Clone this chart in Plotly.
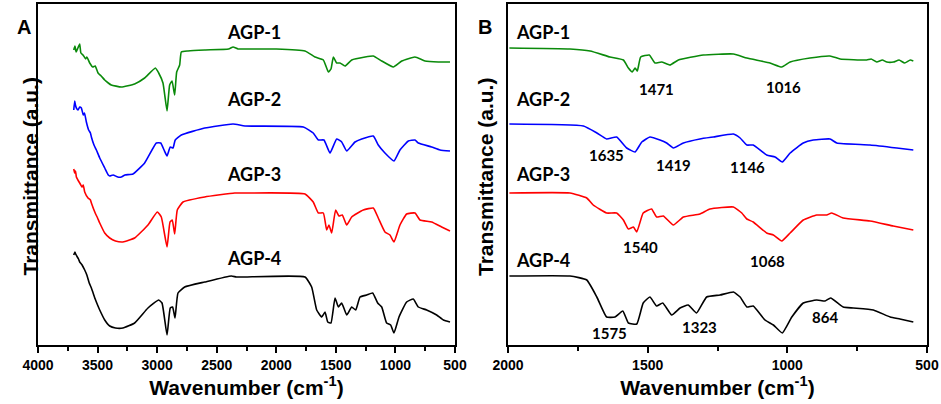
import plotly.graph_objects as go

## Datos (número de onda en cm-1, transmitancia en u.a. desplazada)

# Panel A : 4000 - 500 cm-1
wn_a1 = [3700, 3690, 3680, 3665, 3650, 3640, 3622, 3600, 3590, 3566, 3540, 3520, 3496, 3470, 3440, 3410,
         3385, 3301, 3189, 3105, 3015, 2987, 2951, 2917, 2895, 2875, 2853, 2836, 2811, 2797, 2741, 2600,
         2400, 2363, 2321, 2263, 2000, 1759, 1675, 1605, 1563, 1541, 1521, 1493, 1465, 1423, 1367, 1255,
         1186, 1115, 1018, 947, 836, 752, 640, 542]
t_a1 = [295, 299, 293, 297, 301, 292, 290, 286, 288, 282, 278, 279, 272, 269, 265, 262,
        260, 258, 261, 267, 277, 272, 262, 234, 260, 264, 250, 273, 280, 293, 294, 295,
        296, 298, 296, 296, 296, 294, 288, 285, 273, 276, 288, 282, 282, 279, 285, 288,
        289, 284, 278, 284, 288, 284, 283, 283]

wn_a2 = [3700, 3692, 3686, 3678, 3664, 3650, 3636, 3620, 3610, 3594, 3575, 3560, 3552, 3530, 3510, 3482,
         3440, 3410, 3398, 3370, 3330, 3301, 3270, 3203, 3105, 3007, 2970, 2942, 2917, 2890, 2867, 2848,
         2797, 2601, 2363, 2263, 1773, 1690, 1647, 1600, 1549, 1493, 1451, 1409, 1339, 1283, 1186, 1144,
         1088, 1012, 962, 892, 836, 808, 696, 626, 542]
t_a2 = [235, 244, 240, 237, 235, 238, 237, 230, 232, 223, 215, 212, 208, 200, 195, 187,
        177, 170, 169, 170, 168, 168, 170, 171, 182, 202, 202, 195, 189, 198, 197, 205,
        210, 217, 221, 219, 218, 212, 205, 205, 192, 206, 203, 194, 203, 206, 209, 200,
        192, 184, 195, 204, 205, 202, 198, 195, 194]

wn_a3 = [3700, 3692, 3685, 3678, 3665, 3650, 3630, 3620, 3608, 3580, 3560, 3552, 3520, 3500, 3482, 3440,
         3398, 3350, 3287, 3189, 3077, 2999, 2965, 2917, 2892, 2873, 2853, 2831, 2783, 2601, 2349, 2263,
         1759, 1690, 1647, 1605, 1577, 1558, 1535, 1502, 1474, 1446, 1409, 1367, 1270, 1186, 1144, 1088,
         1046, 1012, 962, 906, 836, 794, 696, 612, 542]
t_a3 = [176, 172, 174, 168, 165, 162, 158, 160, 153, 147, 145, 142, 132, 127, 122, 112,
        107, 104, 103, 107, 120, 133, 128, 98, 123, 125, 111, 135, 143, 148, 152, 152,
        151, 143, 132, 132, 115, 120, 112, 135, 129, 130, 120, 128, 135, 137, 127, 113,
        110, 103, 120, 131, 132, 125, 123, 118, 114]

wn_a4 = [3700, 3690, 3684, 3670, 3660, 3650, 3630, 3608, 3590, 3570, 3552, 3520, 3500, 3482, 3440, 3398,
         3350, 3287, 3189, 3077, 2987, 2959, 2917, 2890, 2870, 2850, 2825, 2769, 2601, 2377, 2335, 2263,
         1759, 1703, 1661, 1619, 1591, 1568, 1541, 1507, 1479, 1451, 1409, 1367, 1333, 1297, 1241, 1191,
         1149, 1115, 1074, 1040, 1012, 970, 906, 850, 808, 738, 654, 598, 542]
t_a4 = [90, 93, 91, 88, 86, 83, 80, 75, 70, 62, 57, 46, 40, 35, 25, 19,
        17, 17, 22, 37, 45, 42, 10, 37, 38, 27, 52, 58, 63, 69, 68, 68,
        68, 58, 35, 28, 33, 23, 22, 47, 38, 42, 30, 38, 35, 48, 50, 52,
        42, 38, 22, 20, 12, 28, 43, 46, 38, 35, 30, 25, 23]

# Panel B : 2000 - 500 cm-1
wn_b1 = [1995, 1778, 1706, 1635, 1587, 1569, 1555, 1545, 1537, 1525, 1494, 1474, 1450, 1420, 1390, 1301,
         1193, 1145, 1062, 1020, 990, 919, 847, 811, 716, 700, 680, 660, 644, 620, 600, 580, 560, 549]
t_b1 = [297, 296, 294, 288, 285, 277, 273, 277, 274, 288, 290, 282, 283, 280, 285, 290,
        291, 287, 282, 278, 283, 287, 289, 286, 285, 286, 283, 285, 283, 283, 285, 282, 285, 284]

wn_b2 = [1995, 1730, 1682, 1647, 1611, 1575, 1545, 1521, 1492, 1456, 1432, 1408, 1372, 1313, 1265, 1193,
         1169, 1145, 1122, 1074, 1044, 1018, 990, 943, 907, 847, 823, 704, 608, 549]
t_b2 = [221, 219, 212, 206, 208, 197, 193, 203, 208, 205, 202, 197, 202, 206, 208, 211,
        207, 200, 200, 190, 188, 183, 192, 202, 205, 206, 202, 200, 197, 195]

wn_b3 = [1995, 1778, 1718, 1695, 1647, 1611, 1587, 1569, 1551, 1539, 1516, 1486, 1468, 1444, 1408, 1372,
         1313, 1277, 1193, 1163, 1145, 1122, 1074, 1050, 1020, 990, 943, 895, 859, 841, 800, 704, 621, 549]
t_b3 = [152, 152, 147, 140, 132, 132, 125, 116, 118, 113, 132, 136, 128, 129, 120, 128,
        131, 136, 138, 132, 126, 123, 112, 110, 104, 112, 125, 130, 130, 132, 127, 124, 119, 115]

wn_b4 = [1995, 1778, 1718, 1682, 1647, 1617, 1589, 1569, 1539, 1516, 1492, 1468, 1446, 1414, 1384, 1355,
         1325, 1289, 1241, 1193, 1169, 1145, 1122, 1080, 1050, 1018, 984, 943, 895, 865, 845, 800,
         764, 692, 632, 597, 549]
t_b4 = [69, 69, 65, 48, 28, 28, 34, 22, 21, 42, 48, 39, 42, 30, 37, 40,
        32, 48, 50, 53, 48, 38, 39, 25, 20, 12, 28, 42, 45, 44, 47, 38,
        37, 35, 28, 26, 23]

muestras = ["AGP-1", "AGP-2", "AGP-3", "AGP-4"]
colores = ["#0a8a0a", "#0000ff", "#ff0000", "#000000"]

# picos marcados en el panel B
picos = ["1471", "1016", "1635", "1419", "1146", "1540", "1068", "1575", "1323", "864"]
picos_x = [1468, 1014, 1647, 1408, 1142, 1525, 1070, 1637, 1313, 865]
picos_y = [256, 258, 190, 180, 178, 98, 84, 12, 18, 28]

## Gráfico

W, H = 941, 404

def fx(px):
    return px / W

def fy(py):
    return 1 - py / H

fig = go.Figure()

series_a = [(wn_a1, t_a1), (wn_a2, t_a2), (wn_a3, t_a3), (wn_a4, t_a4)]
series_b = [(wn_b1, t_b1), (wn_b2, t_b2), (wn_b3, t_b3), (wn_b4, t_b4)]

for (x, y), nombre, color in zip(series_a, muestras, colores):
    fig.add_trace(go.Scatter(x = x, y = y, mode = "lines", name = nombre,
                             line = dict(color = color, width = 1.6, shape = "spline", smoothing = 0.4),
                             xaxis = "x", yaxis = "y"))

for (x, y), nombre, color in zip(series_b, muestras, colores):
    fig.add_trace(go.Scatter(x = x, y = y, mode = "lines", name = nombre,
                             line = dict(color = color, width = 1.6, shape = "spline", smoothing = 0.4),
                             xaxis = "x2", yaxis = "y2"))

eje_x = dict(showline = True, linecolor = "black", linewidth = 2, mirror = True,
             ticks = "outside", ticklen = 6, tickwidth = 1.5, tickcolor = "black",
             showgrid = False, zeroline = False, automargin = False,
             tickfont = dict(family = "Liberation Sans", size = 14, color = "black", weight = "bold"),
             title = dict(text = "Wavenumber (cm<sup>-1</sup>)", standoff = 4,
                          font = dict(family = "Liberation Sans", size = 21, color = "black", weight = "bold")))

eje_y = dict(showline = True, linecolor = "black", linewidth = 2, mirror = True,
             showticklabels = False, ticks = "", showgrid = False, zeroline = False,
             automargin = False, range = [0, 341])

fig.update_layout(
    width = W, height = H,
    margin = dict(l = 0, r = 0, t = 0, b = 0),
    paper_bgcolor = "white", plot_bgcolor = "white",
    showlegend = False,
    xaxis = dict(eje_x, domain = [fx(38), fx(455)], range = [4000, 500], dtick = 500,
                 minor = dict(dtick = 250, ticks = "outside", ticklen = 4, tickcolor = "black")),
    yaxis = dict(eje_y, domain = [fy(345), fy(4)], anchor = "x"),
    xaxis2 = dict(eje_x, domain = [fx(508), fx(927)], range = [2000, 500], dtick = 500,
                  minor = dict(dtick = 250, ticks = "outside", ticklen = 4, tickcolor = "black"), anchor = "y2"),
    yaxis2 = dict(eje_y, domain = [fy(345), fy(4)], anchor = "x2"),
)

fuente_etiqueta = dict(family = "Lato", size = 18, color = "black", weight = "bold")
fuente_pico = dict(family = "Lato", size = 15, color = "black", weight = "bold")

# etiquetas de las muestras
for nombre, y in zip(muestras, [313, 246, 171, 87]):
    fig.add_annotation(x = 2187, y = y, xref = "x", yref = "y", text = nombre,
                       showarrow = False, font = fuente_etiqueta)

for nombre, y in zip(muestras, [313, 246, 171, 85]):
    fig.add_annotation(x = 1978, y = y, xref = "x2", yref = "y2", text = nombre, xanchor = "left",
                       showarrow = False, font = fuente_etiqueta)

for texto, x, y in zip(picos, picos_x, picos_y):
    fig.add_annotation(x = x, y = y, xref = "x2", yref = "y2", text = texto,
                       showarrow = False, font = fuente_pico)

# títulos del eje y y letras de panel
for px in [17, 486]:
    fig.add_annotation(x = fx(px), y = fy(177), xref = "paper", yref = "paper",
                       text = "Transmittance (a.u.)", textangle = -90, showarrow = False,
                       font = dict(family = "Liberation Sans", size = 21, color = "black", weight = "bold"))

for letra, px in [("A", 15), ("B", 485)]:
    fig.add_annotation(x = fx(px), y = fy(14), xref = "paper", yref = "paper",
                       text = letra, showarrow = False,
                       font = dict(family = "Liberation Sans", size = 20, color = "black", weight = "bold"))

# sin el margen por defecto del body la figura ocupa toda la ventana
fig.write_html("out.html", config = {"displayModeBar": False},
               post_script = "document.body.style.margin = '0px';")
